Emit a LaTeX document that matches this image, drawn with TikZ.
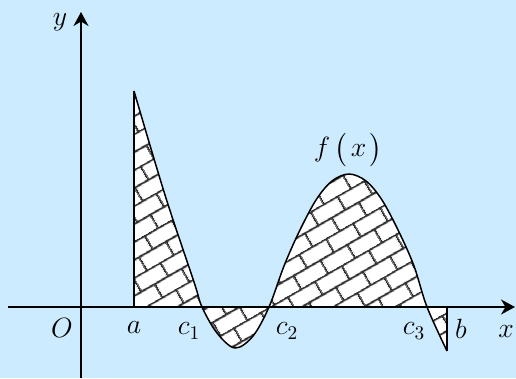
\documentclass[tikz,border=0pt]{standalone}
\usepackage{amsmath, amssymb}
\usepackage{tikz}
\usetikzlibrary{arrows.meta, patterns.meta}
\definecolor{skyBg}{HTML}{CCEBFE}

\tikzdeclarepattern{
  name=slantbricks,
  type=uncolored,
  bounding box={(0pt,0pt) and (18pt,18pt)},
  tile size={(18pt,18pt)},
  tile transformation={rotate=30},
  code={
    \draw[line width=1.2pt]
      (0pt,4.5pt) -- (18pt,4.5pt) (0pt,13.5pt) -- (18pt,13.5pt)
      (4.5pt,4.5pt) -- (4.5pt,13.5pt)
      (13.5pt,13.5pt) -- (13.5pt,18pt) (13.5pt,0pt) -- (13.5pt,4.5pt);
  }
}

\def\curvepts{(134,91) (165,195) (194,282) (202,307) (217,333) (235,348)
  (253,336) (269,307) (284,266) (299,232) (316,200) (332,181) (349,174)
  (366,181) (382,200) (399,232) (414,266) (427,307) (447,351)}

\begin{document}
\begin{tikzpicture}[
        x=0.02cm, y=-0.02cm,
        font=\Large,
        >={Stealth[length=0.28cm, width=0.3cm, inset=0.09cm]},
        axis/.style={->, line width=1.15pt, draw=black},
        graph/.style={line width=0.85pt, draw=black, line join=round},
        lbl/.style={inner sep=0pt, scale=1.1, transform shape},
      ]
      % background and frame of the picture
      \fill[skyBg] (0,0) rectangle (516,378);
      \useasboundingbox (0,0) rectangle (516,378);

      \coordinate (yb) at (81,378);
      \coordinate (yt) at (81,12);
      \coordinate (xl) at (8,307);
      \coordinate (xr) at (515,307);
      \coordinate (atop) at (134,91);
      \coordinate (afoot) at (134,307);
      \coordinate (bend) at (447,351);
      \coordinate (bfoot) at (447,307);

      % hatched area between the graph and the x-axis
      \fill[white] (afoot) -- plot[smooth, tension=0.55] coordinates {\curvepts} -- (bfoot) -- cycle;
      \fill[pattern={slantbricks}, pattern color=black!80]
        (afoot) -- plot[smooth, tension=0.55] coordinates {\curvepts} -- (bfoot) -- cycle;

      \draw[graph] plot[smooth, tension=0.55] coordinates {\curvepts};
      \draw[graph] (afoot) -- (atop);
      \draw[graph] (bfoot) -- (bend);

      \draw[axis] (xl) -- (xr);
      \draw[axis] (yb) -- (yt);

      \node[lbl] (ylab)  at (60,22)   {$y$};
      \node[lbl] (xlab)  at (506,332) {$x$};
      \node[lbl] (olab)  at (62,328)  {$O$};
      \node[lbl] (alab)  at (134,328) {$a$};
      \node[lbl] (c1lab) at (189,331) {$c_1$};
      \node[lbl] (c2lab) at (287,331) {$c_2$};
      \node[lbl] (c3lab) at (414,331) {$c_3$};
      \node[lbl] (blab)  at (461,329) {$b$};
      \node[lbl] (flab)  at (348,150) {$f\,\bigl(\mkern2mu x\mkern2mu\bigr)$};
    \end{tikzpicture}
\end{document}
